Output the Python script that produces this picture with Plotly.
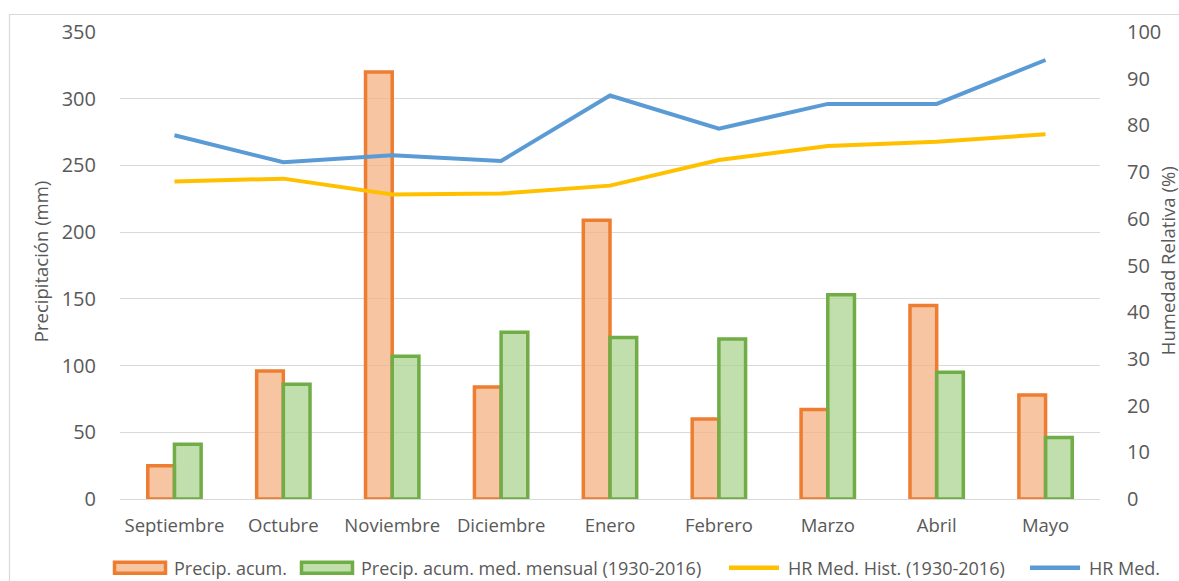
import plotly.graph_objects as go

months = ["Septiembre", "Octubre", "Noviembre", "Diciembre", "Enero",
          "Febrero", "Marzo", "Abril", "Mayo"]
precip = [25, 96, 320, 84, 209, 60, 67, 145, 78]
precip_hist = [41, 86, 107, 125, 121, 120, 153, 95, 46]
hr_hist = [68.0, 68.6, 65.2, 65.4, 67.1, 72.6, 75.6, 76.5, 78.1]
hr_med = [77.9, 72.1, 73.6, 72.4, 86.4, 79.3, 84.6, 84.6, 94.0]
left_ticks = [0, 50, 100, 150, 200, 250, 300, 350]
right_ticks = [0, 10, 20, 30, 40, 50, 60, 70, 80, 90, 100]
legend_names = ["Precip. acum.", "Precip. acum. med. mensual (1930-2016)",
                "HR Med. Hist. (1930-2016)", "HR Med."]

FONT = "Open Sans"
GREY = "#595959"
ORANGE, ORANGE_FILL = "#ED7D31", "rgba(244,177,131,0.75)"
GREEN, GREEN_FILL = "#70AD47", "rgba(169,209,142,0.72)"
YELLOW, BLUE = "#FFC000", "#5B9BD5"

W, H = 1179, 581
PL, PR, PT, PB = 120, 1100, 32, 498.7   # plot area in page pixels
L, T, R, B = PL, PT, W - PR, H - PB
PW, PH = PR - PL, PB - PT


def px(x):
    return (x - PL) / PW


def py(y):
    return (PB - y) / PH


fig = go.Figure()
fig.add_trace(go.Bar(x=months, y=precip, name=legend_names[0], showlegend=False,
                     marker=dict(color=ORANGE_FILL, line=dict(color=ORANGE, width=3.5))))
fig.add_trace(go.Bar(x=months, y=precip_hist, name=legend_names[1], showlegend=False,
                     marker=dict(color=GREEN_FILL, line=dict(color=GREEN, width=3.5))))
fig.add_trace(go.Scatter(x=months, y=hr_hist, name=legend_names[2], showlegend=False,
                         mode="lines", yaxis="y2", line=dict(color=YELLOW, width=4)))
fig.add_trace(go.Scatter(x=months, y=hr_med, name=legend_names[3], showlegend=False,
                         mode="lines", yaxis="y2", line=dict(color=BLUE, width=4)))

shapes = [dict(type="rect", xref="paper", yref="paper",
               x0=px(9.5), x1=px(1220), y0=py(620), y1=py(14.5),
               line=dict(color="#D9D9D9", width=1.2), layer="below")]
annotations = [
    dict(text="Precipitación (mm)", textangle=-90, xref="paper", yref="paper",
         x=px(40), y=py(262), xanchor="center", yanchor="middle", showarrow=False,
         font=dict(size=18.5, color=GREY, family=FONT)),
    dict(text="Humedad Relativa (%)", textangle=-90, xref="paper", yref="paper",
         x=px(1167), y=py(261), xanchor="center", yanchor="middle", showarrow=False,
         font=dict(size=18.5, color=GREY, family=FONT)),
]

# legend drawn manually (symbol x-start, text x-start), page pixels
ly = 567.5
items = [(113, 172, "bar", ORANGE, ORANGE_FILL),
         (300, 359, "bar", GREEN, GREEN_FILL),
         (727, 786, "line", YELLOW, None),
         (1028, 1087, "line", BLUE, None)]
for (sx, tx, kind, col, fill), name in zip(items, legend_names):
    if kind == "bar":
        shapes.append(dict(type="rect", xref="paper", yref="paper",
                           x0=px(sx + 1.5), x1=px(sx + 52.5), y0=py(ly + 5.5), y1=py(ly - 5.5),
                           line=dict(color=col, width=3.5), fillcolor=fill))
    else:
        shapes.append(dict(type="line", xref="paper", yref="paper",
                           x0=px(sx + 2), x1=px(sx + 52), y0=py(ly), y1=py(ly),
                           line=dict(color=col, width=4.5)))
    annotations.append(dict(text=name, xref="paper", yref="paper", x=px(tx), y=py(ly),
                            xanchor="left", yanchor="middle", showarrow=False,
                            font=dict(size=18, color=GREY, family=FONT)))

fig.update_layout(
    width=W, height=H,
    margin=dict(l=L, r=R, t=T, b=B, autoexpand=False),
    paper_bgcolor="white", plot_bgcolor="white",
    font=dict(family=FONT, color=GREY, size=16),
    barmode="group", bargap=0.51, bargroupgap=0,
    showlegend=False,
    xaxis=dict(tickfont=dict(size=18.5, color=GREY), showgrid=False, automargin=False,
               showline=False, ticks="", ticklabelstandoff=13),
    yaxis=dict(range=[0, 350], tickvals=left_ticks, showgrid=True, automargin=False,
               gridcolor="#D9D9D9", gridwidth=1.3, zeroline=True,
               zerolinecolor="#D9D9D9", zerolinewidth=1.3,
               tickfont=dict(size=20, color=GREY), ticklabelstandoff=23),
    yaxis2=dict(range=[0, 100], tickvals=right_ticks, overlaying="y", automargin=False,
                side="right", showgrid=False, zeroline=False,
                tickfont=dict(size=20, color=GREY), ticklabelstandoff=26),
    shapes=shapes,
    annotations=annotations,
)

fig.write_html("out.html", config={"displayModeBar": False},
               post_script="document.body.style.margin='0';"
                           "document.body.style.overflow='hidden';")
